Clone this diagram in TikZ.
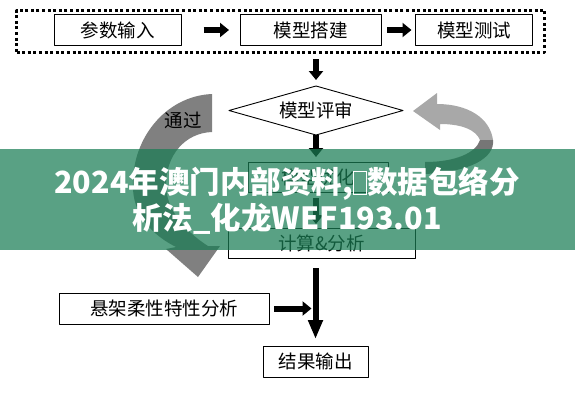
\documentclass[tikz,border=0pt]{standalone}
\usepackage{fontspec}
\newfontfamily\cjk{Noto Sans CJK SC}
\usetikzlibrary{arrows.meta,calc,shapes.geometric}

\definecolor{bannergreen}{RGB}{25,125,84}
\definecolor{ribbondark}{RGB}{128,128,128}
\definecolor{ribbonlight}{RGB}{168,168,168}
\definecolor{ribbonunder}{RGB}{118,118,118}
\newcommand\tofu{{\setlength\fboxsep{0pt}\setlength\fboxrule{1pt}\fbox{\rule{0pt}{0.72em}\hspace{0.4em}}}}

\tikzset{
  box/.style={draw, line width=0.9pt, outer sep=0pt, inner sep=0pt, minimum height=31pt,
    font=\cjk\fontsize{18.5}{20}\selectfont},
  frame/.style={draw, line width=3pt, line cap=butt, dash pattern=on 3pt off 2.6pt,
    outer sep=0pt, minimum width=528pt, minimum height=42pt},
  decision/.style={box, diamond, aspect=3.5, minimum width=174pt, minimum height=49pt},
  bigarrow/.style={line width=6pt, line cap=butt, -{Triangle[length=9pt,width=14pt]}},
  longarrow/.style={bigarrow, -{Triangle[length=19pt,width=14pt]}},
}

\begin{document}
\begin{tikzpicture}[line width=0.9pt, line cap=round, line join=round, x=1pt, y=-1pt]
  \useasboundingbox (0,0) rectangle (575,400);
  % Curved ribbon arrows behind the chart.
  \fill[ribbondark] (212,94) .. controls (165,96) and (130,140) .. (133,190)
    .. controls (135,220) and (158,238) .. (176,247) -- (166,249) -- (198,277) -- (220,246) -- (208,246)
    .. controls (186,232) and (166,210) .. (166,185) .. controls (166,155) and (185,133) .. (212,132) -- cycle;
  \fill[ribbonlight] (437,93) -- (413,111) -- (440,130) -- (440,124)
    .. controls (462,124) and (476,130) .. (480,140) -- (493,140)
    .. controls (490,118) and (468,104) .. (437,104) -- cycle;
  \fill[ribbonunder] (480,140) -- (493,140) .. controls (495,158) and (470,172) .. (425,174)
    -- (425,162) .. controls (455,162) and (476,153) .. (480,140) -- cycle;
  \node[font=\cjk\fontsize{18.5}{20}\selectfont] (pass) at (183,120) {通过};
  % Input stage.
  \node[frame] (group) at (280.5,31) {};
  \node[box, minimum width=127.5pt] (inp) at (117.75,30) {参数输入};
  \node[box, minimum width=141pt] (build) at (310.5,30) {模型搭建};
  \node[box, minimum width=117pt] (test) at (474,30) {模型测试};
  % Review loop and analysis.
  \node[decision] (review) at (316,110.5) {模型评审};
  \node[box, minimum width=140pt, minimum height=30pt] (refine) at (318,177) {模型优化};
  \node[box, minimum width=187pt, minimum height=30pt] (calc) at (321.5,243) {计算\&分析};
  \node[box, minimum width=210pt] (susp) at (164,308.5) {悬架柔性特性分析};
  \node[box, minimum width=105pt] (out) at (315.5,361.5) {结果输出};
  % Block arrows.
  \draw[bigarrow] ([xshift=22pt]inp.east) -- ([xshift=-11pt]build.west);
  \draw[bigarrow] ([xshift=6pt]build.east) -- ([xshift=-4pt]test.west);
  \draw[bigarrow] ([yshift=-7pt]group.south -| review.north) -- ([yshift=6pt]review.north);
  \draw[bigarrow] (review.south) -- ([yshift=5pt]refine.north -| review.south);
  \draw[bigarrow] ([yshift=-6pt]refine.south -| review.south) -- ([yshift=4pt]calc.north -| review.south);
  \draw[longarrow] ([yshift=-10pt]calc.south -| out.north) -- ([yshift=7pt]out.north);
  \draw[bigarrow] ([xshift=5pt]susp.east) -- ($(susp.east -| out.north)+(-4,0)$);
  % Title band over the picture.
  \fill[bannergreen, fill opacity=0.72] (0,149) rectangle (575,250);
  \node[text=white, align=center, font=\cjk\bfseries\fontsize{30.5}{36}\selectfont] (title) at (287,201)
    {2024年澳门内部资料,\tofu{}数据包络分\\析法\_化龙WEF193.01};
\end{tikzpicture}
\end{document}
